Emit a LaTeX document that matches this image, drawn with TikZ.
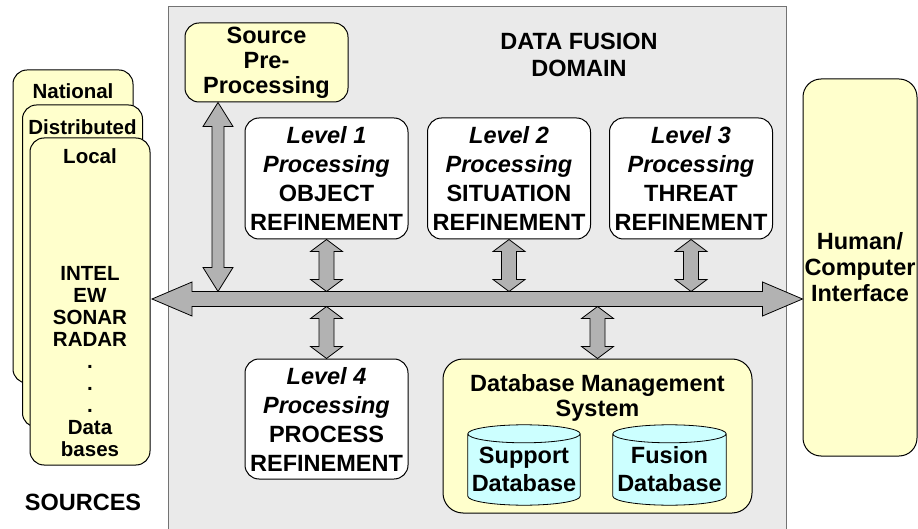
\documentclass[tikz,border=0pt]{standalone}
\usepackage{fontspec}
\setmainfont{Liberation Sans}
\usetikzlibrary{positioning,calc}

\definecolor{boxyellow}{HTML}{FFFFCC}
\definecolor{dbcyan}{HTML}{CCFFFF}
\definecolor{domaingray}{HTML}{EAEAEA}

% fat double arrow, upper end #1, lower end #2: shaft, head half widths, head length
\newcommand{\vfatarrow}[5]{%
  \draw[fatarrow] let \p1=(#1), \p2=(#2) in
    (\x1,\y1) -- (\x1+#4,\y1-#5) -- (\x1+#3,\y1-#5) -- (\x1+#3,\y2+#5)
    -- (\x1+#4,\y2+#5) -- (\x1,\y2) -- (\x1-#4,\y2+#5) -- (\x1-#3,\y2+#5)
    -- (\x1-#3,\y1-#5) -- (\x1-#4,\y1-#5) -- cycle;}
\newcommand{\hfatarrow}[5]{%
  \draw[fatarrow] let \p1=(#1), \p2=(#2) in
    (\x1,\y1) -- (\x1+#5,\y1+#4) -- (\x1+#5,\y1+#3) -- (\x2-#5,\y1+#3)
    -- (\x2-#5,\y1+#4) -- (\x2,\y1) -- (\x2-#5,\y1-#4) -- (\x2-#5,\y1-#3)
    -- (\x1+#5,\y1-#3) -- (\x1+#5,\y1-#4) -- cycle;}
% database drum over the box of node #1
\newcommand{\dbcyl}[1]{%
  \draw[dbdrum] let \p1=(#1.south west), \p2=(#1.north east) in
    (\x1,\y2-9pt) -- (\x1,\y1+9pt)
    arc[start angle=180, end angle=360, x radius={(\x2-\x1)/2}, y radius=9pt]
    -- (\x2,\y2-9pt)
    arc[start angle=0, end angle=180, x radius={(\x2-\x1)/2}, y radius=9pt] -- cycle
    (\x1,\y2-9pt)
    arc[start angle=180, end angle=360, x radius={(\x2-\x1)/2}, y radius=9pt];}

\tikzset{
  txt/.style={font=\bfseries\fontsize{23.5}{27}\selectfont, align=center, inner sep=0pt},
  srctxt/.style={font=\bfseries\fontsize{20.5}{22}\selectfont, align=center, inner sep=0pt},
  rbox/.style={draw, line width=1pt, rounded corners=14pt, inner sep=0pt},
  lvlbox/.style={rbox, txt, fill=white,
    minimum width=163pt, minimum height=121pt,
    font=\bfseries\fontsize{23.5}{29}\selectfont},
  srcbox/.style={rbox, fill=boxyellow, minimum width=120pt},
  fatarrow/.style={draw, fill=gray!60, line width=0.8pt, line join=miter},
  dbdrum/.style={draw, fill=dbcyan, line width=0.8pt},
}

\begin{document}
\begin{tikzpicture}[x=1pt, y=-1pt]
    \useasboundingbox (0,0) rectangle (918,529);

    % data fusion domain
    \fill[domaingray] (168,7) rectangle (786,529);
    \draw[black!55, line width=1pt] (168,529) -- (168,7) -- (786,7) -- (786,529);
    \node[txt] (dom) at (579,54.5) {DATA FUSION\\DOMAIN};

    % sources
    \node[srcbox, minimum height=313pt] (nat) at (73,226.5) {};
    \node[srctxt] (natT) at ([yshift=-22pt]nat.north) {National};
    \node[srcbox, minimum height=322pt] (dist) at (82.5,266) {};
    \node[srctxt] (distT) at ([yshift=-23pt]dist.north) {Distributed};
    \node[srcbox, minimum height=327pt] (loc) at (90,301.5) {};
    \node[srctxt] (locT) at ([yshift=-19pt]loc.north) {Local};
    \node[srctxt] (locL) at (90,361.5)
      {INTEL\\EW\\SONAR\\RADAR\\.\\.\\.\\Data\\bases};
    \node[txt] (srcs) at (83,502) {SOURCES};

    \node[rbox, txt, fill=boxyellow,
      minimum width=163pt, minimum height=79pt,
      font=\bfseries\fontsize{23.5}{25}\selectfont] (pre) at (266.5,62.5)
      {Source\\Pre-\\Processing};

    \node[rbox, txt, fill=boxyellow, rounded corners=18pt,
      minimum width=114pt, minimum height=377pt,
      font=\bfseries\fontsize{23.5}{26}\selectfont] (hci) at (860,267.5)
      {Human/\\Computer\\Interface};

    % processing levels
    \node[lvlbox] (lvl1) at (326.5,178.5)
      {\textit{Level 1}\\\textit{Processing}\\OBJECT\\REFINEMENT};
    \node[lvlbox] (lvl2) at (509,178.5)
      {\textit{Level 2}\\\textit{Processing}\\SITUATION\\REFINEMENT};
    \node[lvlbox] (lvl3) at (691,178.5)
      {\textit{Level 3}\\\textit{Processing}\\THREAT\\REFINEMENT};
    \node[lvlbox, minimum height=120pt] (lvl4) at (326.5,419)
      {\textit{Level 4}\\\textit{Processing}\\PROCESS\\REFINEMENT};

    % database management
    \node[rbox, fill=boxyellow, rounded corners=20pt,
      minimum width=309pt, minimum height=154pt] (dbms) at (597.5,436) {};
    \node[txt, font=\bfseries\fontsize{23.5}{25}\selectfont] (dbmsT) at (597.5,398)
      {Database Management\\System};

    \node[minimum width=112pt, minimum height=80pt, inner sep=0pt] (supB) at (524,465) {};
    \dbcyl{supB}
    \node[txt, font=\bfseries\fontsize{23.5}{28}\selectfont] (sup)
      at ([yshift=-4pt]supB.center) {Support\\Database};

    \node[minimum width=113pt, minimum height=80pt, inner sep=0pt] (fusB) at (669.5,465) {};
    \dbcyl{fusB}
    \node[txt, font=\bfseries\fontsize{23.5}{28}\selectfont] (fus)
      at ([yshift=-4pt]fusB.center) {Fusion\\Database};

    % bus
    \coordinate (busL) at (152,299);
    \coordinate (busR) at (hci.west |- busL);
    \coordinate (busT) at ($(busL)+(0,-7.5)$);
    \coordinate (busB) at ($(busL)+(0,7.5)$);
    \coordinate (preA) at ([xshift=-48.5pt]pre.south);

    \vfatarrow{preA}{preA |- busT}{6pt}{15pt}{24pt}
    \vfatarrow{lvl1.south}{lvl1.south |- busT}{7.5pt}{16pt}{12pt}
    \vfatarrow{lvl2.south}{lvl2.south |- busT}{7.5pt}{16pt}{12pt}
    \vfatarrow{lvl3.south}{lvl3.south |- busT}{7.5pt}{16pt}{12pt}
    \vfatarrow{lvl4.north |- busB}{lvl4.north}{7.5pt}{16pt}{12pt}
    \vfatarrow{dbms.north |- busB}{dbms.north}{7.5pt}{16pt}{12pt}
    \hfatarrow{busL}{busR}{7.5pt}{17pt}{40pt}
\end{tikzpicture}
\end{document}
